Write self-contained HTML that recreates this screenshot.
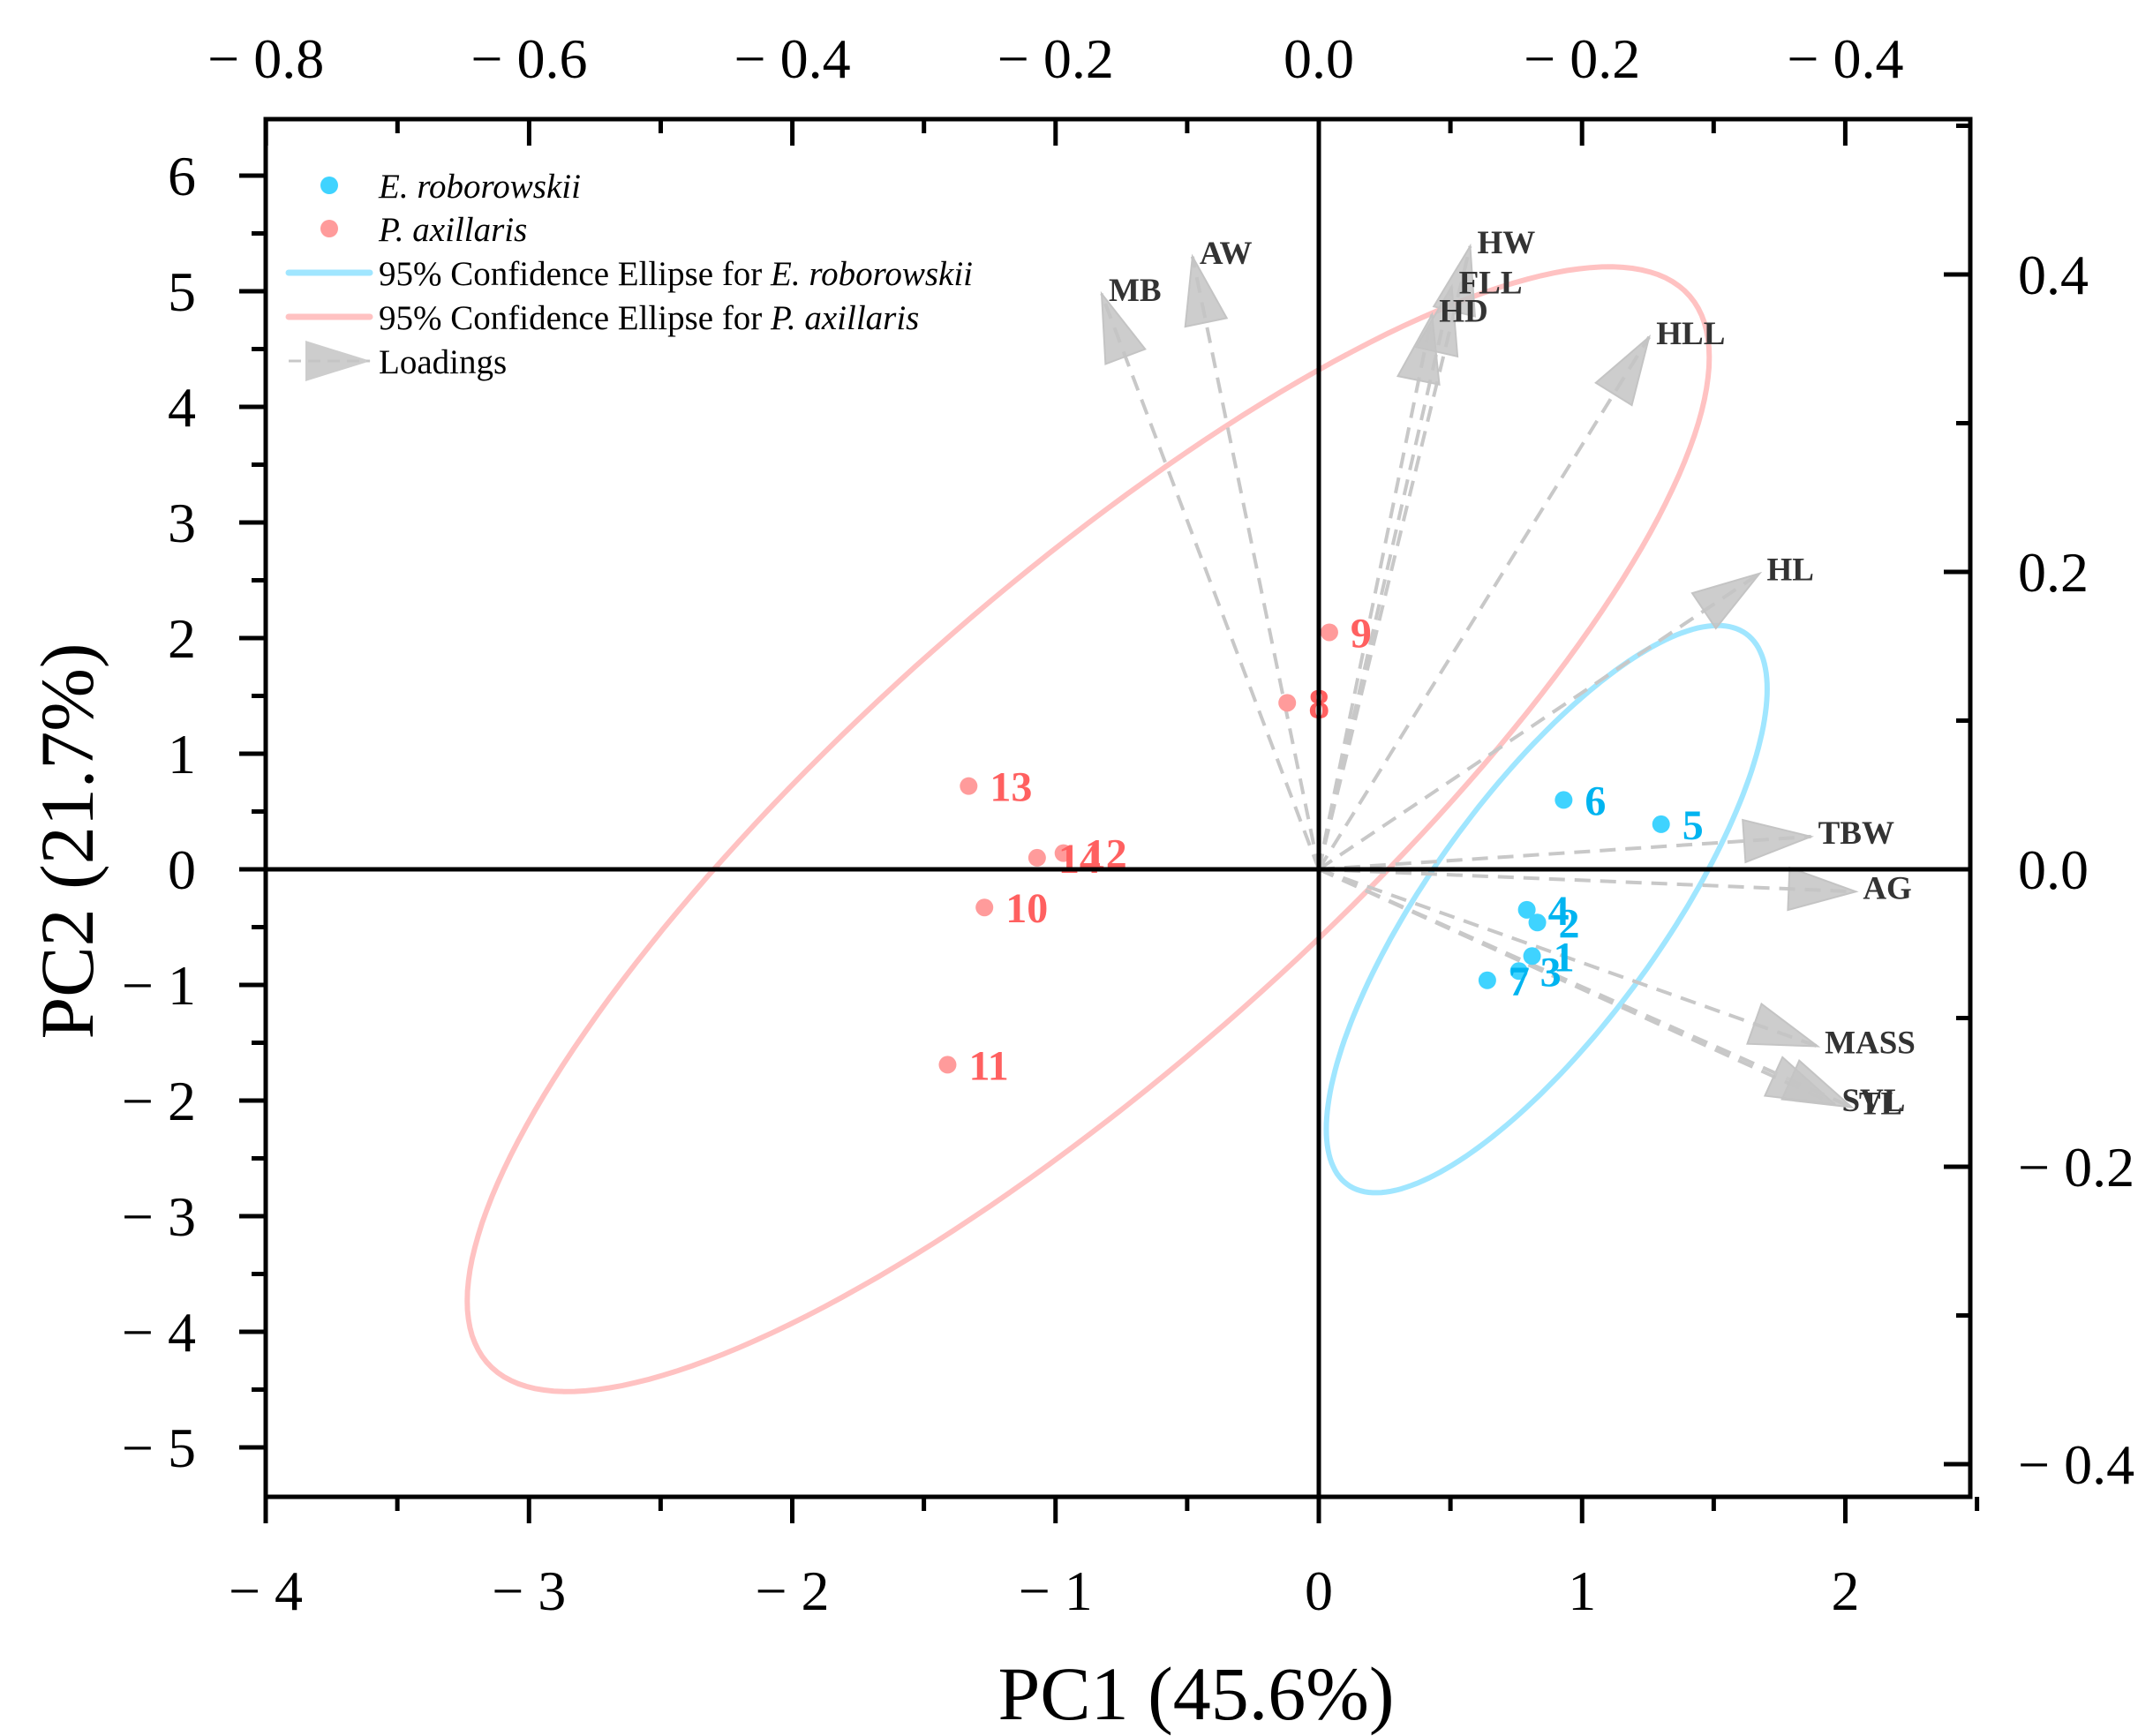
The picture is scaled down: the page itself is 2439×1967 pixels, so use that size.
<!DOCTYPE html>
<html><head><meta charset="utf-8"><style>
html,body{margin:0;padding:0;background:#fff;}
svg{display:block;}
text{font-family:"Liberation Serif",serif;}
</style></head><body>
<svg id="chart" width="2439" height="1967" viewBox="0 0 2439 1967" xmlns="http://www.w3.org/2000/svg">
<g id="ellipses"></g>
<g id="loadings"></g>
<g id="points"></g>
<g id="axes"></g>
<g id="legend"></g>
</svg>
<script>
// ---- data ----
const eLabels = ['1','2','3','4','5','6','7'];
const eX = [0.81, 0.83, 0.76, 0.79, 1.30, 0.93, 0.64];
const eY = [-0.75, -0.46, -0.88, -0.35, 0.39, 0.60, -0.96];
const pLabels = ['8','9','10','11','12','13','14'];
const pX = [-0.12, 0.04, -1.27, -1.41, -0.97, -1.33, -1.07];
const pY = [1.44, 2.05, -0.33, -1.69, 0.14, 0.72, 0.10];
const loadNames = ['MB','AW','HW','FLL','HD','HLL','HL','TBW','AG','MASS','SVL','TL'];
const loadX = [-0.165, -0.096, 0.115, 0.101, 0.086, 0.251, 0.335, 0.374, 0.408, 0.379, 0.392, 0.405];
const loadY = [0.387, 0.412, 0.419, 0.392, 0.373, 0.358, 0.199, 0.022, -0.015, -0.119, -0.158, -0.160];
const bottomTicks = [-4,-3,-2,-1,0,1,2];
const bottomTickLabels = ['− 4','− 3','− 2','− 1','0','1','2'];
const leftTicks = [-5,-4,-3,-2,-1,0,1,2,3,4,5,6];
const leftTickLabels = ['− 5','− 4','− 3','− 2','− 1','0','1','2','3','4','5','6'];
const topTicks = [-0.8,-0.6,-0.4,-0.2,0,0.2,0.4];
const topTickLabels = ['− 0.8','− 0.6','− 0.4','− 0.2','0.0','− 0.2','− 0.4'];
const rightTicks = [-0.4,-0.2,0,0.2,0.4];
const rightTickLabels = ['− 0.4','− 0.2','0.0','0.2','0.4'];

// ---- layout ----
const L=301,R=2232,T=135,B=1696;
const X0=1494, XU=298.25, Y0=985, YU=131;
const sx=v=>X0+v*XU, sy=v=>Y0-v*YU;
const lx=v=>X0+v*1491, ly=v=>Y0-v*1685;
const NS='http://www.w3.org/2000/svg';
function mk(tag,attrs,parent,txt){const e=document.createElementNS(NS,tag);for(const k in attrs)e.setAttribute(k,attrs[k]);if(txt!==undefined)e.textContent=txt;parent.appendChild(e);return e;}
const gE=document.getElementById('ellipses'),gL=document.getElementById('loadings'),gP=document.getElementById('points'),gA=document.getElementById('axes'),gLeg=document.getElementById('legend');

// ---- ellipses (95% population confidence) ----
function ellipse(xs,ys,color,name){
  const n=xs.length;const mx=xs.reduce((a,b)=>a+b)/n,my=ys.reduce((a,b)=>a+b)/n;
  let a=0,b=0,c=0;for(let i=0;i<n;i++){const dx=xs[i]-mx,dy=ys[i]-my;a+=dx*dx;b+=dx*dy;c+=dy*dy;}
  a/=n-1;b/=n-1;c/=n-1;
  const F=5.786;const k=Math.sqrt(2*(n-1)*(n+1)/(n*(n-2))*F);
  const l11=Math.sqrt(a),l21=b/l11,l22=Math.sqrt(c-l21*l21);
  let d='';for(let i=0;i<=200;i++){const t=i/200*2*Math.PI;const x=mx+k*l11*Math.cos(t),y=my+k*(l21*Math.cos(t)+l22*Math.sin(t));d+=(i?'L':'M')+sx(x).toFixed(1)+' '+sy(y).toFixed(1);}
  const p=mk('path',{d:d+'Z',fill:'none',stroke:color,'stroke-width':6},gE);
  
  
}
ellipse(pX,pY,'#ffc2c2','ellipse-p-axillaris');
ellipse(eX,eY,'#a0e6ff','ellipse-e-roborowskii');

// ---- loadings ----
function arrowHead(x1,y1,x2,y2,len,hw,parent){
  const dx=x2-x1,dy=y2-y1,m=Math.hypot(dx,dy),ux=dx/m,uy=dy/m;
  const bx=x2-ux*len,by=y2-uy*len;
  return mk('polygon',{points:`${x2},${y2} ${bx-uy*hw},${by+ux*hw} ${bx+uy*hw},${by-ux*hw}`,fill:'#c4c4c4','fill-opacity':0.85,stroke:'#c4c4c4','stroke-width':2},parent);
}
for(let i=0;i<loadNames.length;i++){
  const tx=lx(loadX[i]),ty=ly(loadY[i]);
  const g=mk('g',{},gL);
  
  
  mk('line',{x1:X0,y1:Y0,x2:tx,y2:ty,stroke:'#c8c8c8','stroke-width':4,'stroke-dasharray':'18 11'},g);
  arrowHead(X0,Y0,tx,ty,76,24,g);
  const t=mk('text',{x:tx+8,y:ty+8,'font-size':37,'font-weight':'bold',fill:'#333'},g,loadNames[i]);
  
  
}

// ---- points ----
function pts(xs,ys,labs,dot,txtc,name){
  for(let i=0;i<xs.length;i++){
    const g=mk('g',{},gP);
    
    
    mk('circle',{cx:sx(xs[i]),cy:sy(ys[i]),r:10,fill:dot},g);
    mk('text',{x:sx(xs[i])+24,y:sy(ys[i])+17,'font-size':48,'font-weight':'bold',fill:txtc},g,labs[i]);
  }
}
pts(pX,pY,pLabels,'#ff9b9b','#ff6060','point-p');
pts(eX,eY,eLabels,'#3fd3ff','#00b4f0','point-e');

// ---- axes ----
mk('line',{x1:L,y1:Y0,x2:R,y2:Y0,stroke:'#000','stroke-width':5},gA);
mk('line',{x1:X0,y1:T,x2:X0,y2:B,stroke:'#000','stroke-width':5},gA);
const frame=mk('rect',{x:L,y:T,width:R-L,height:B-T,fill:'none',stroke:'#000','stroke-width':5},gA);


for(let v=-4;v<=2.5;v+=0.5){const x=sx(v);const maj=Math.abs(v-Math.round(v))<1e-6;mk('line',{x1:x,y1:B,x2:x,y2:B+(maj?30:16),stroke:'#000','stroke-width':5},gA);}
bottomTicks.forEach((v,i)=>{const t=mk('text',{x:sx(v),y:1824,'font-size':64,'text-anchor':'middle'},gA,bottomTickLabels[i]);});
for(let v=-5;v<=6;v+=0.5){const y=sy(v);const maj=Math.abs(v-Math.round(v))<1e-6;mk('line',{x1:L,y1:y,x2:L-(maj?30:16),y2:y,stroke:'#000','stroke-width':5},gA);}
leftTicks.forEach((v,i)=>{const t=mk('text',{x:222,y:sy(v)+22,'font-size':64,'text-anchor':'end'},gA,leftTickLabels[i]);});
for(let k=-8;k<=4;k++){const v=k/10;const x=lx(v);const maj=k%2===0;mk('line',{x1:x,y1:T,x2:x,y2:T+(maj?30:16),stroke:'#000','stroke-width':5},gA);}
topTicks.forEach((v,i)=>{const t=mk('text',{x:lx(v),y:88,'font-size':64,'text-anchor':'middle'},gA,topTickLabels[i]);});
for(let k=-4;k<=5;k++){const v=k/10;const y=ly(v);const maj=k%2===0;mk('line',{x1:R,y1:y,x2:R-(maj?30:16),y2:y,stroke:'#000','stroke-width':5},gA);}
rightTicks.forEach((v,i)=>{const t=mk('text',{x:2286,y:ly(v)+22,'font-size':64,'text-anchor':'start'},gA,rightTickLabels[i]);});
const xt=mk('text',{x:1355,y:1948,'font-size':86,'text-anchor':'middle'},gA,'PC1 (45.6%)');

const yt=mk('text',{x:0,y:0,'font-size':86,'text-anchor':'middle',transform:'translate(105,953) rotate(-90)'},gA,'PC2 (21.7%)');


// ---- legend ----
function legItem(name){const g=mk('g',{},gLeg);return g;}
let g=legItem('legend-e-roborowskii');
mk('circle',{cx:373,cy:210,r:10,fill:'#3fd3ff'},g);
mk('text',{x:429,y:224,'font-size':39,'font-style':'italic'},g,'E. roborowskii');
g=legItem('legend-p-axillaris');
mk('circle',{cx:373,cy:259,r:10,fill:'#ff9b9b'},g);
mk('text',{x:429,y:273,'font-size':39,'font-style':'italic'},g,'P. axillaris');
g=legItem('legend-ellipse-e');
mk('line',{x1:327,y1:309,x2:419,y2:309,stroke:'#a0e6ff','stroke-width':7,'stroke-linecap':'round'},g);
const t1=mk('text',{x:429,y:323,'font-size':39},g);
mk('tspan',{},t1,'95% Confidence Ellipse for  ');mk('tspan',{'font-style':'italic'},t1,'E. roborowskii');
g=legItem('legend-ellipse-p');
mk('line',{x1:327,y1:359,x2:419,y2:359,stroke:'#ffc2c2','stroke-width':7,'stroke-linecap':'round'},g);
const t2=mk('text',{x:429,y:373,'font-size':39},g);
mk('tspan',{},t2,'95% Confidence Ellipse for ');mk('tspan',{'font-style':'italic'},t2,'P. axillaris');
g=legItem('legend-loadings');
mk('line',{x1:327,y1:409,x2:419,y2:409,stroke:'#c8c8c8','stroke-width':3,'stroke-dasharray':'14 8'},g);
mk('polygon',{points:'420,409 346,386 346,432',fill:'#c4c4c4','fill-opacity':0.85},g);
mk('text',{x:429,y:423,'font-size':39},g,'Loadings');
</script>
</body></html>
